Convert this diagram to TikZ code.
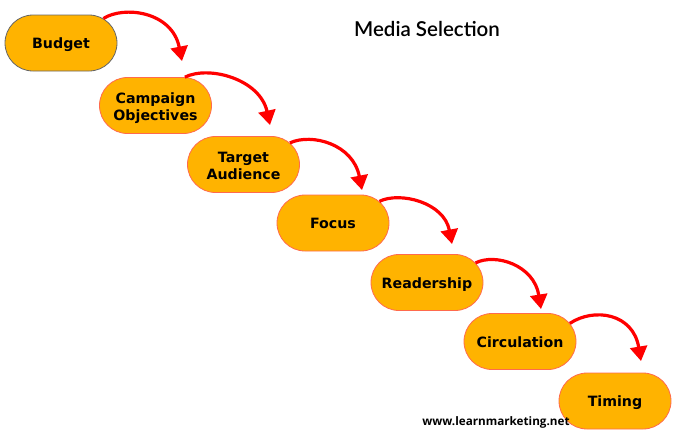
\documentclass[tikz,border=0pt]{standalone}
\usepackage{fontspec}
\setmainfont{DejaVu Sans}
\newfontfamily\titlefont{Lato Semibold}
\newfontfamily\sitefont{Open Sans}
\usetikzlibrary{shapes.misc}
\usetikzlibrary{arrows.meta}
\definecolor{pillfill}{HTML}{FFB300}
\definecolor{pilledge}{HTML}{FF6A4D}
\newcommand\pillstrut{\rule{0pt}{15.5pt}}
\tikzset{
  pill/.style={rounded rectangle,draw=pilledge,fill=pillfill,line width=0.8pt,minimum width=112pt,minimum height=56pt,align=center,inner sep=0pt,font=\fontsize{14.2}{17}\selectfont\bfseries,execute at begin node={\rule[-3.5pt]{0pt}{18.6pt}}},
  flow/.style={red,line width=3.2pt,-{Triangle[length=14.5pt,width=17pt]}}
}
\begin{document}
\begin{tikzpicture}[x=1pt,y=-1pt]
\useasboundingbox (0,0) rectangle (674,432);
\path (61,43) node(budget)[pill,draw=gray!80!black]{Budget}
(155.5,105.5) node(campaign)[pill]{\pillstrut Campaign\\Objectives}
(243.5,164.5) node(target)[pill]{\pillstrut Target\\Audience}
(333,223) node(focus)[pill]{Focus}
(427,282.5) node(readership)[pill]{Readership}
(520,341.5) node(circulation)[pill]{Circulation}
(615,401) node(timing)[pill]{Timing};
\node(title) at (427,28.5) {\titlefont\fontsize{20.5}{23}\selectfont Media Selection};
\node(site) at (496,422) {\sitefont\bfseries\fontsize{11.7}{14}\selectfont www.learnmarketing.net};
% free ends of the arrows
\coordinate(tipa) at (182,61);
\coordinate(tipb) at (270,125);
\coordinate(tipc) at (362,190);
\coordinate(tipd) at (452,244);
\coordinate(tipe) at (541,309);
\coordinate(tipf) at (641,361);
\draw[flow](budget.30).. controls +(20,-13) and +(-10,-50) ..(tipa);
\draw[flow](campaign.44).. controls +(24,-12) and +(-10,-46) ..(tipb);
\draw[flow](target.25).. controls +(22,-10) and +(-9,-46) ..(tipc);
\draw[flow](focus.25).. controls +(20,-10) and +(-8,-42) ..(tipd);
\draw[flow](readership.22).. controls +(20,-10) and +(-7,-44) ..(tipe);
\draw[flow](circulation.20).. controls +(24,-16) and +(-8,-48) ..(tipf);
\end{tikzpicture}
\end{document}
